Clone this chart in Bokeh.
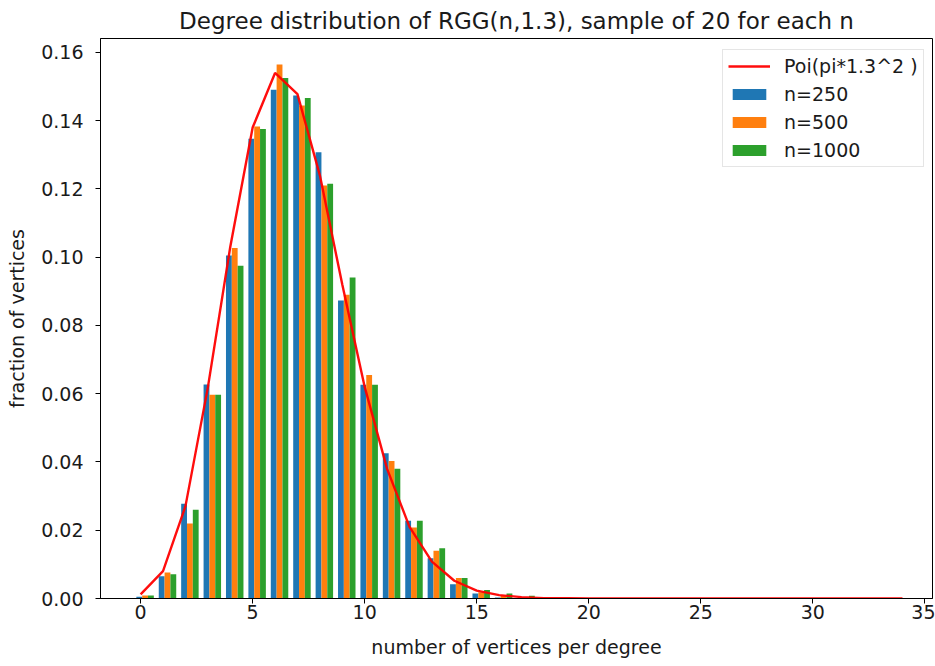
from bokeh.plotting import figure
from bokeh.models import Range1d, Legend, LegendItem, FixedTicker, NumeralTickFormatter
from bokeh.embed import file_html
from bokeh.resources import INLINE

# ---- data ----
degrees = list(range(18))
n250 = [0.0005, 0.0065, 0.0278, 0.0627, 0.1005, 0.1347, 0.1491, 0.1474, 0.1308,
        0.0873, 0.0626, 0.0426, 0.0228, 0.0118, 0.0042, 0.0015, 0.0003, 0.0001]
n500 = [0.0009, 0.0076, 0.0220, 0.0597, 0.1027, 0.1383, 0.1565, 0.1445, 0.1210,
        0.0890, 0.0655, 0.0403, 0.0208, 0.0140, 0.0060, 0.0018, 0.0008, 0.0002]
n1000 = [0.0009, 0.0071, 0.0260, 0.0597, 0.0975, 0.1376, 0.1525, 0.1467, 0.1215,
         0.0941, 0.0626, 0.0380, 0.0228, 0.0147, 0.0060, 0.0025, 0.0015, 0.0008]

poi_k = list(range(35))
poi_p = [0.0012, 0.0080, 0.0270, 0.0618, 0.1030, 0.1380, 0.1540, 0.1478, 0.1240,
         0.0920, 0.0620, 0.0380, 0.0210, 0.0108, 0.0052, 0.0023, 0.0010, 0.0004,
         0.0001, 0.0001, 0.0, 0.0, 0.0, 0.0, 0.0, 0.0, 0.0, 0.0, 0.0, 0.0,
         0.0, 0.0, 0.0, 0.0, 0.0]

series = [n250, n500, n1000]
series_labels = ["n=250", "n=500", "n=1000"]
line_label = "Poi(pi*1.3^2 )"
title_text = "Degree distribution of RGG(n,1.3), sample of 20 for each n"
x_label = "number of vertices per degree"
y_label = "fraction of vertices"
x_ticks = [0, 5, 10, 15, 20, 25, 30, 35]
y_ticks = [0.00, 0.02, 0.04, 0.06, 0.08, 0.10, 0.12, 0.14, 0.16]

# ---- style ----
colors = ["#1f77b4", "#ff7f0e", "#2ca02c"]
bar_w = 0.26
offsets = [-0.06, 0.20, 0.46]
FONT = "DejaVu Sans"
TXT = "#1a1a1a"

p = figure(width=935, height=666, output_backend="svg", toolbar_location=None,
           x_range=Range1d(-1.79, 35.34), y_range=Range1d(0, 0.1641),
           min_border_left=100, min_border_right=3, min_border_top=38,
           min_border_bottom=68)

p.title.text = title_text
p.title.align = "center"
p.title.vertical_align = "middle"
p.title.text_font = FONT
p.title.text_font_size = "23px"
p.title.text_font_style = "normal"
p.title.text_color = TXT
p.title.standoff = 8

p.xgrid.visible = False
p.ygrid.visible = False
p.outline_line_color = "black"
p.outline_line_width = 1
p.background_fill_color = "white"
p.border_fill_color = "white"

bar_renderers = []
for vals, off, col in zip(series, offsets, colors):
    xs = [d + off for d in degrees]
    r = p.vbar(x=xs, top=vals, bottom=0, width=bar_w, fill_color=col,
               line_color=None)
    bar_renderers.append(r)

line_r = p.line(poi_k, poi_p, line_color="red", line_width=2.4, line_alpha=0.95)

for ax in (p.xaxis[0], p.yaxis[0]):
    ax.axis_line_color = "black"
    ax.major_tick_line_color = "black"
    ax.major_tick_out = 5
    ax.major_tick_in = 0
    ax.minor_tick_line_color = None
    ax.major_label_text_font = FONT
    ax.major_label_text_font_size = "19px"
    ax.major_label_text_color = TXT
    ax.axis_label_text_font = FONT
    ax.axis_label_text_font_size = "19px"
    ax.axis_label_text_font_style = "normal"
    ax.axis_label_text_color = TXT

p.xaxis.ticker = FixedTicker(ticks=x_ticks)
p.yaxis.ticker = FixedTicker(ticks=y_ticks)
p.yaxis.formatter = NumeralTickFormatter(format="0.00")
p.xaxis.axis_label = x_label
p.yaxis.axis_label = y_label
p.xaxis.major_label_standoff = 1
p.yaxis.major_label_standoff = 12
p.xaxis.axis_label_standoff = 14
p.yaxis.axis_label_standoff = 10

items = [LegendItem(label=line_label, renderers=[line_r])]
for lab, r in zip(series_labels, bar_renderers):
    items.append(LegendItem(label=lab, renderers=[r]))

legend = Legend(items=items, location=(622, 431))
legend.label_text_font = FONT
legend.label_text_font_size = "19px"
legend.label_text_color = TXT
legend.glyph_width = 42
legend.glyph_height = 14
legend.label_height = 20
legend.spacing = 6
legend.padding = 5
legend.label_standoff = 14
legend.border_line_color = "#cccccc"
legend.border_line_width = 1
legend.background_fill_alpha = 0.85
legend.margin = 0
p.add_layout(legend)

open("out.html", "w").write(file_html(p, INLINE))
